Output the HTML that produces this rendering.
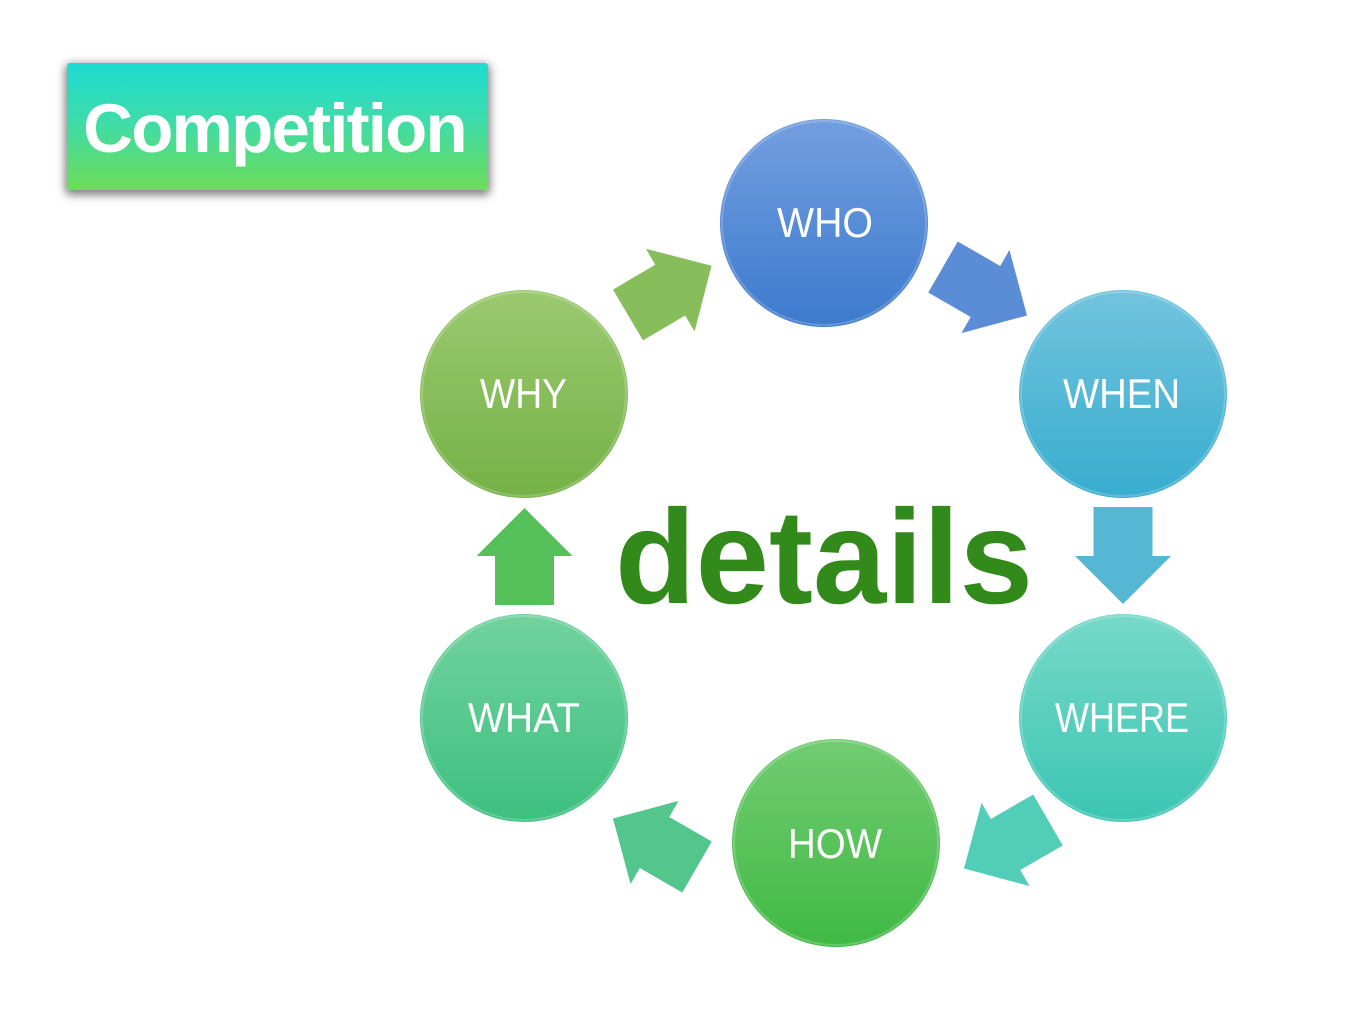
<!DOCTYPE html>
<html>
<head>
<meta charset="utf-8">
<style>
  html, body { margin:0; padding:0; background:#ffffff; }
  body { width:1365px; height:1024px; overflow:hidden; position:relative; }
  .box {
    position:absolute; left:67px; top:63px; width:421px; height:127px;
    background:linear-gradient(to bottom, #1cdcd2 0%, #3ddcaa 45%, #6ddc58 100%);
    box-shadow: 0 3px 9px 2px rgba(0,0,0,0.5);
    border-radius:3px;
  }
  .box span {
    position:absolute; left:0; right:0; top:26px; text-align:center;
    font-family:"Liberation Sans", Arial, sans-serif; font-weight:bold;
    font-size:69px; line-height:80px; letter-spacing:-1.8px; color:#ffffff;
    padding-right:6px;
  }
  svg { position:absolute; left:0; top:0; }
</style>
</head>
<body>
<div class="box"><span>Competition</span></div>

<svg width="1365" height="1024" viewBox="0 0 1365 1024" xmlns="http://www.w3.org/2000/svg">
  <defs>
    <linearGradient id="gWho" x1="0" y1="0" x2="0" y2="1">
      <stop offset="0" stop-color="#739fe0"/><stop offset="1" stop-color="#3d7acd"/>
    </linearGradient>
    <linearGradient id="gWhen" x1="0" y1="0" x2="0" y2="1">
      <stop offset="0" stop-color="#72c4dd"/><stop offset="1" stop-color="#38adcf"/>
    </linearGradient>
    <linearGradient id="gWhere" x1="0" y1="0" x2="0" y2="1">
      <stop offset="0" stop-color="#77d9c9"/><stop offset="1" stop-color="#3cc5b3"/>
    </linearGradient>
    <linearGradient id="gHow" x1="0" y1="0" x2="0" y2="1">
      <stop offset="0" stop-color="#72cc72"/><stop offset="1" stop-color="#40b943"/>
    </linearGradient>
    <linearGradient id="gWhat" x1="0" y1="0" x2="0" y2="1">
      <stop offset="0" stop-color="#72d29e"/><stop offset="1" stop-color="#3dc07f"/>
    </linearGradient>
    <linearGradient id="gWhy" x1="0" y1="0" x2="0" y2="1">
      <stop offset="0" stop-color="#9bc970"/><stop offset="1" stop-color="#75b146"/>
    </linearGradient>
    <polygon id="arr" points="0,-29.5 49,-29.5 49,-48 97,0 49,48 49,29.5 0,29.5"/>
  </defs>

  <!-- Arrows -->
  <use href="#arr" fill="#87be5b" transform="translate(628,315) rotate(-30.5)"/>
  <use href="#arr" fill="#5b8dd6" transform="translate(943,267) rotate(30)"/>
  <use href="#arr" fill="#55b7d4" transform="translate(1123,507) rotate(90)"/>
  <use href="#arr" fill="#52ceb8" transform="translate(1048,820) rotate(150)"/>
  <use href="#arr" fill="#52c68c" transform="translate(697,867) rotate(210)"/>
  <use href="#arr" fill="#56c15b" transform="translate(524.5,605) rotate(-90)"/>

  <!-- Circles -->
  <g>
    <circle cx="824" cy="223" r="104" fill="url(#gWho)"/>
    <circle cx="824" cy="223" r="102" fill="none" stroke="#ffffff" stroke-opacity="0.2" stroke-width="2"/>
    <circle cx="1123" cy="394" r="104" fill="url(#gWhen)"/>
    <circle cx="1123" cy="394" r="102" fill="none" stroke="#ffffff" stroke-opacity="0.2" stroke-width="2"/>
    <circle cx="1123" cy="718" r="104" fill="url(#gWhere)"/>
    <circle cx="1123" cy="718" r="102" fill="none" stroke="#ffffff" stroke-opacity="0.2" stroke-width="2"/>
    <circle cx="836" cy="843" r="104" fill="url(#gHow)"/>
    <circle cx="836" cy="843" r="102" fill="none" stroke="#ffffff" stroke-opacity="0.2" stroke-width="2"/>
    <circle cx="524" cy="718" r="104" fill="url(#gWhat)"/>
    <circle cx="524" cy="718" r="102" fill="none" stroke="#ffffff" stroke-opacity="0.2" stroke-width="2"/>
    <circle cx="524" cy="394" r="104" fill="url(#gWhy)"/>
    <circle cx="524" cy="394" r="102" fill="none" stroke="#ffffff" stroke-opacity="0.2" stroke-width="2"/>
  </g>

  <!-- Labels -->
  <g font-family="'Liberation Sans', Arial, sans-serif" font-size="42" fill="#ffffff">
    <text x="777" y="237" textLength="96" lengthAdjust="spacingAndGlyphs">WHO</text>
    <text x="1063" y="408" textLength="117" lengthAdjust="spacingAndGlyphs">WHEN</text>
    <text x="1055" y="732" textLength="134" lengthAdjust="spacingAndGlyphs">WHERE</text>
    <text x="788" y="858" textLength="94" lengthAdjust="spacingAndGlyphs">HOW</text>
    <text x="468" y="732" textLength="112" lengthAdjust="spacingAndGlyphs">WHAT</text>
    <text x="480" y="408" textLength="87" lengthAdjust="spacingAndGlyphs">WHY</text>
  </g>

  <!-- Center word -->
  <text x="615" y="603" font-family="'Liberation Sans', Arial, sans-serif" font-weight="bold" font-size="134" fill="#318a1a" textLength="418" lengthAdjust="spacingAndGlyphs">details</text>
</svg>
</body>
</html>
